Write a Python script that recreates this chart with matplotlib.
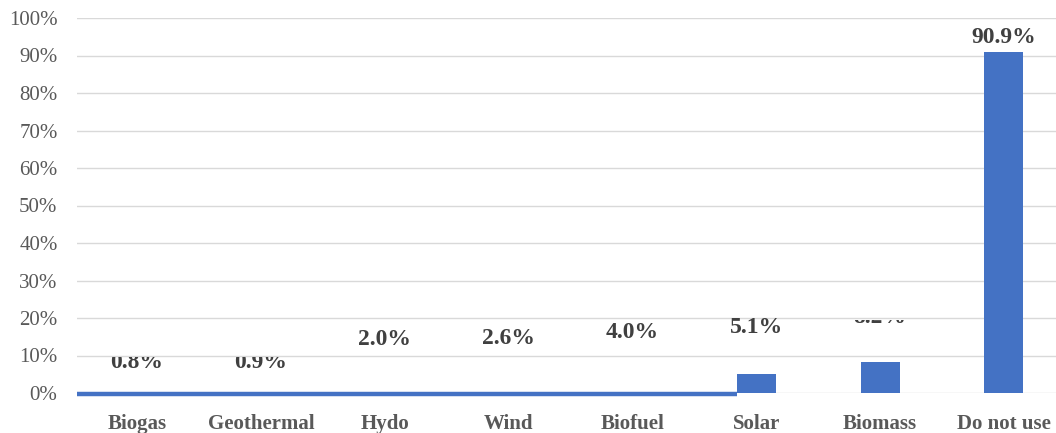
import matplotlib.pyplot as plt
from matplotlib.transforms import Bbox, TransformedBbox

categories = ["Biogas", "Geothermal", "Hydo", "Wind", "Biofuel", "Solar", "Biomass", "Do not use"]
values = [0.8, 0.9, 2.0, 2.6, 4.0, 5.1, 8.2, 90.9]
labels = ["0.8%", "0.9%", "2.0%", "2.6%", "4.0%", "5.1%", "8.2%", "90.9%"]
yticks = [0, 10, 20, 30, 40, 50, 60, 70, 80, 90, 100]

# where each value label sits (baseline, % units) and where it gets cut off
label_base = [6.6, 6.6, 12.8, 13.0, 14.6, 15.9, 18.7, 93.3]
label_clip = [9.6, 9.6, None, None, None, None, 19.5, None]
first_bar = 5  # the categories before this collapse into the flat strip

plt.rcParams["font.family"] = ["Liberation Serif", "DejaVu Serif"]

fig = plt.figure(figsize=(10.56, 4.33), dpi=100)
ax = fig.add_axes([77 / 1056, 40 / 433, 1 - 77 / 1056, 375 / 433])

blue = "#4472C4"
w = 0.315
x = list(range(len(categories)))

ax.bar(x[first_bar:], values[first_bar:], width=w, color=blue, zorder=3)

xmin, xmax = -0.485, 7.42
ax.plot([xmin, x[first_bar] - w / 2], [-0.3, -0.3], color=blue, lw=3.2,
        solid_capstyle="butt", clip_on=False, zorder=4)

for xi, lab, yb, top in zip(x, labels, label_base, label_clip):
    t = ax.text(xi, yb, lab, ha="center", va="baseline", fontsize=17,
                fontweight="bold", color="#404040", zorder=5)
    if top is not None:
        box = TransformedBbox(Bbox([[xi - 0.5, -5], [xi + 0.5, top]]), ax.transData)
        t.set_clip_box(box)
        t.set_clip_on(True)

ax.set_xlim(xmin, xmax)
ax.set_ylim(0, 100)
ax.set_yticks(yticks)
ax.set_yticklabels([f"{v}%" for v in yticks])
ax.set_xticks(x)
ax.set_xticklabels(categories, fontweight="bold")

ax.tick_params(axis="y", length=0, pad=14, labelsize=15, labelcolor="#595959")
ax.tick_params(axis="x", length=0, pad=15, labelsize=15, labelcolor="#595959")

ax.grid(axis="y", color="#D9D9D9", lw=1.0, zorder=0)
ax.set_axisbelow(True)
for s in ax.spines.values():
    s.set_visible(False)

fig.savefig("out.png", dpi=100)
